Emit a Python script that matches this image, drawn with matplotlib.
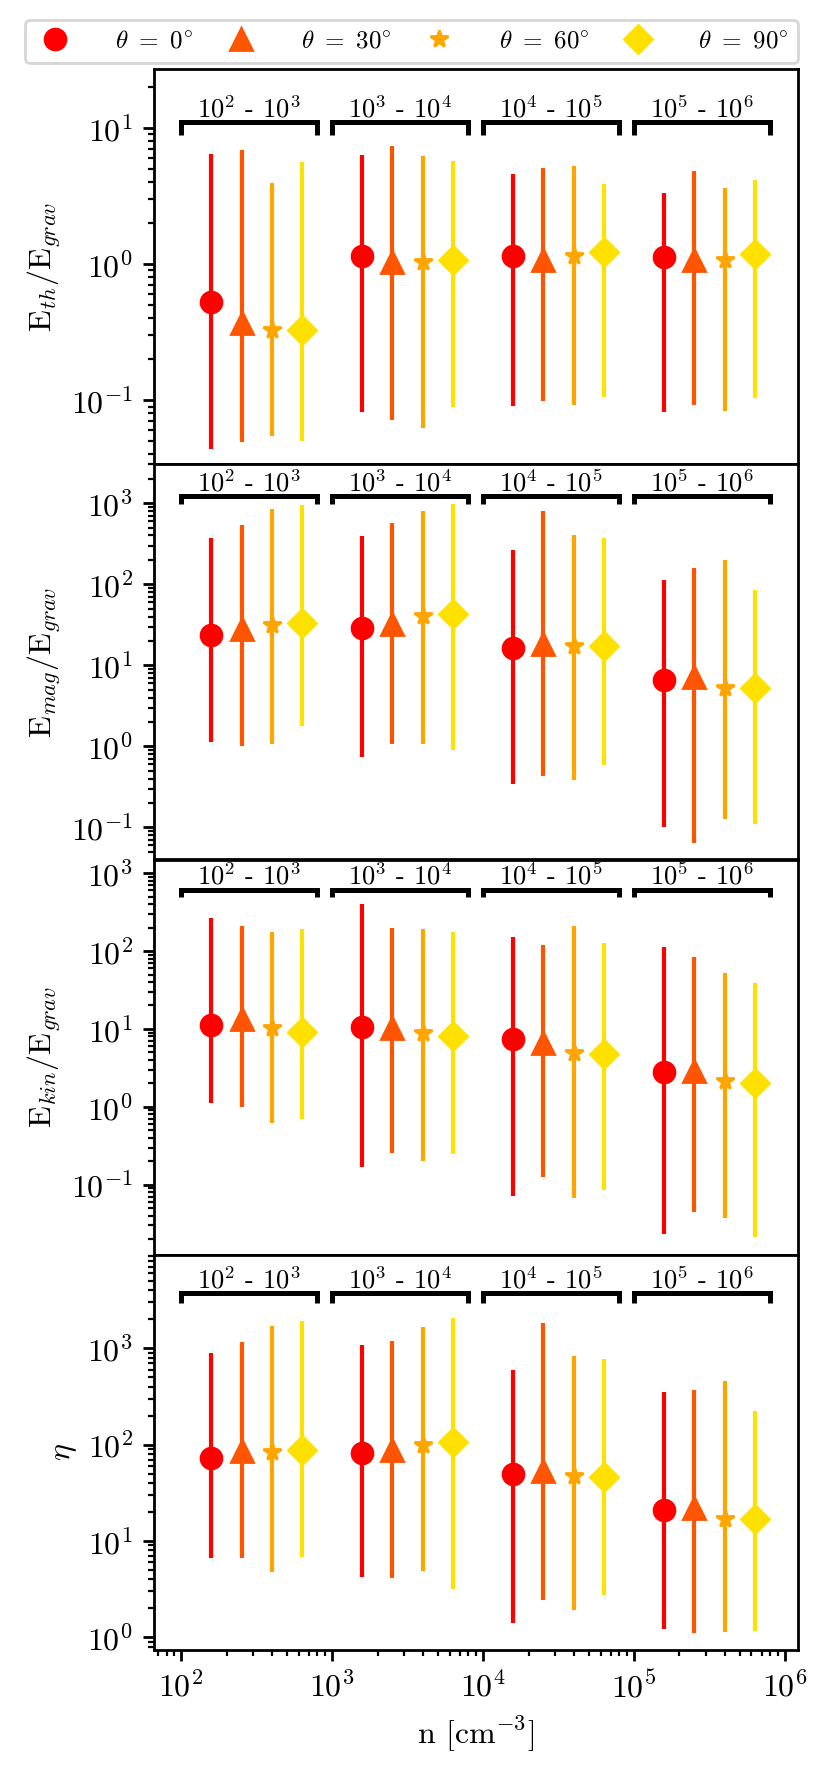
import numpy as np
import matplotlib
matplotlib.use("Agg")
import matplotlib.pyplot as plt
from matplotlib.lines import Line2D

plt.rcParams['font.family'] = ['cmr10', 'DejaVu Serif']
plt.rcParams['mathtext.fontset'] = 'cm'
plt.rcParams['axes.formatter.use_mathtext'] = True
plt.rcParams['axes.unicode_minus'] = False
plt.rcParams['font.size'] = 11.5
plt.rcParams['axes.linewidth'] = 1.0

# ---------------- data ----------------
bin_lo = [1e2, 1e3, 1e4, 1e5]
bin_labels = ["$10^2$ - $10^3$", "$10^3$ - $10^4$", "$10^4$ - $10^5$", "$10^5$ - $10^6$"]
angle_labels = [r"$\theta\ =\ 0^{\circ}$", r"$\theta\ =\ 30^{\circ}$", r"$\theta\ =\ 60^{\circ}$", r"$\theta\ =\ 90^{\circ}$"]
angle_offset_dex = [0.2, 0.4, 0.6, 0.8]
colors = ['#ff0000', '#ff5500', '#ffa500', '#ffe100']
markers = ['o', '^', '*', 'D']
msizes = [7.5, 8.0, 6.5, 7.0]

# E_th / E_grav
eth_c  = [[0.53, 1.15, 1.14, 1.13], [0.37, 1.04, 1.08, 1.08], [0.33, 1.04, 1.14, 1.08], [0.33, 1.07, 1.22, 1.19]]
eth_hi = [[6.5, 6.3, 4.6, 3.35], [6.9, 7.4, 5.05, 4.85], [3.96, 6.25, 5.25, 3.6], [5.6, 5.75, 3.86, 4.15]]
eth_lo = [[0.044, 0.082, 0.091, 0.082], [0.049, 0.072, 0.098, 0.093], [0.055, 0.063, 0.093, 0.084], [0.050, 0.089, 0.106, 0.104]]

# E_mag / E_grav
emag_c  = [[23.9, 28.9, 16.4, 6.5], [28.4, 32.7, 18.3, 7.2], [31.8, 40.3, 17.3, 5.25], [33.3, 43.5, 17.2, 5.25]]
emag_hi = [[373, 392, 263, 112], [535, 571, 796, 159], [843, 796, 403, 198], [944, 990, 373, 84]]
emag_lo = [[1.13, 0.75, 0.346, 0.10], [1.0, 1.06, 0.43, 0.065], [1.08, 1.08, 0.38, 0.128], [1.77, 0.91, 0.59, 0.111]]

# E_kin / E_grav
ekin_c  = [[11.2, 10.5, 7.4, 2.82], [13.5, 10.2, 6.65, 2.88], [10.2, 8.9, 4.86, 2.14], [9.2, 8.2, 4.75, 2.04]]
ekin_hi = [[265, 400, 150, 114], [210, 196, 121, 85], [174, 192, 212, 52], [190, 177, 126, 38.6]]
ekin_lo = [[1.13, 0.17, 0.071, 0.023], [0.98, 0.256, 0.126, 0.044], [0.62, 0.20, 0.068, 0.037], [0.70, 0.25, 0.085, 0.021]]

# eta
eta_c  = [[72.3, 81.5, 49.9, 20.8], [85.5, 88.3, 52.7, 22.2], [83.4, 98, 47.1, 16.8], [86.9, 106, 46, 16.8]]
eta_hi = [[892, 1087, 599, 349], [1168, 1196, 1807, 372], [1710, 1642, 822, 454], [1928, 2035, 773, 225]]
eta_lo = [[6.7, 4.24, 1.40, 1.22], [6.6, 4.14, 2.43, 1.10], [4.77, 4.86, 1.92, 1.13], [6.83, 3.14, 2.74, 1.16]]

ylabels = [r"E$_{th}$/E$_{grav}$", r"E$_{mag}$/E$_{grav}$", r"E$_{kin}$/E$_{grav}$", r"$\eta$"]
bracket_y = [11.07, 1220, 610, 3724]
ylims = [(10**-1.47, 10**1.434), (10**-1.395, 10**3.48), (10**-1.9, 10**3.176), (10**-0.131, 10**3.97)]

panels = [(eth_c, eth_lo, eth_hi), (emag_c, emag_lo, emag_hi),
          (ekin_c, ekin_lo, ekin_hi), (eta_c, eta_lo, eta_hi)]

# ---------------- figure ----------------
fig, axes = plt.subplots(4, 1, figsize=(4.15, 8.845), dpi=200, sharex=True)
fig.subplots_adjust(left=0.1855, right=0.9614, top=1 - 69 / 1769, bottom=1 - 1650 / 1769, hspace=0)

for p, ax in enumerate(axes):
    cen, lo, hi = panels[p]
    for a in range(4):
        x = np.array(bin_lo) * 10 ** angle_offset_dex[a]
        y = np.array(cen[a])
        ylo = np.array(lo[a])
        yhi = np.array(hi[a])
        ax.errorbar(x, y, yerr=[y - ylo, yhi - y], fmt=markers[a], color=colors[a],
                    ms=msizes[a], elinewidth=1.5, capsize=0, mec=colors[a])
    # brackets
    yb = bracket_y[p]
    for k, b0 in enumerate(bin_lo):
        b1 = b0 * 10 ** 0.9
        ax.plot([b0, b0, b1, b1], [yb * 0.8, yb, yb, yb * 0.8], color='k', lw=1.8,
                solid_joinstyle='miter', solid_capstyle='butt')
        ax.annotate(bin_labels[k], xy=(np.sqrt(b0 * b1), yb), xytext=(0, 1.8),
                    textcoords='offset points', ha='center', va='baseline', fontsize=9.6)
    ax.set_xscale('log')
    ax.set_yscale('log')
    ax.set_ylim(*ylims[p])
    ax.set_ylabel(ylabels[p], labelpad=3)
    ax.tick_params(which='major', length=4, width=1.0)
    ax.tick_params(which='minor', length=2.3, width=0.8)

axes[-1].set_xlim(10 ** 1.82, 10 ** 6.086)
axes[-1].set_xlabel(r"n [cm$^{-3}$]")

handles = [Line2D([], [], ls='none', marker=markers[a], color=colors[a], ms=msizes[a])
           for a in range(4)]
fig.legend(handles, angle_labels, loc='lower left', ncol=4, mode='expand',
           bbox_to_anchor=(25 / 830, 1 - 63 / 1769, (798 - 25) / 830, 40 / 1769),
           fontsize=9, numpoints=1, handlelength=1.6, handletextpad=1.6, borderaxespad=0.0,
           fancybox=True, framealpha=0.8, edgecolor='0.8')

fig.savefig("out.png", dpi=200)
